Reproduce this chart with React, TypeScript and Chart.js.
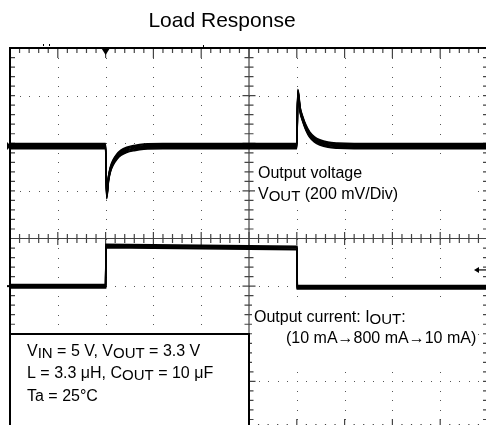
import React, { useEffect, useRef } from 'react';
import { Chart, registerables } from 'chart.js';

Chart.register(...registerables);

// ---- Data (time and amplitude in scope divisions) ----
const TITLE = 'Load Response';
const X_DIVS = [0, 1, 2, 3, 4, 5, 6, 7, 8, 9, 10];
const Y_DIVS = [0, 1, 2, 3, 4, 5, 6, 7, 8];

const vTime = [0, 2.0, 2.022, 2.06, 2.1, 2.16, 2.23, 2.32, 2.44, 2.6, 2.8, 3.2, 6.0, 6.022, 6.07, 6.12, 6.19, 6.27, 6.37, 6.48, 6.65, 6.85, 7.2, 10];
const vOut = [5.94, 5.94, 4.89, 5.25, 5.45, 5.6, 5.71, 5.8, 5.86, 5.9, 5.93, 5.94, 5.94, 7.08, 6.7, 6.52, 6.33, 6.18, 6.08, 6.02, 5.97, 5.95, 5.94, 5.94];

const iTime = [0, 2.0, 2.01, 6.0, 6.01, 10];
const iOut = [3.0, 3.0, 3.84, 3.8, 2.975, 2.975];

const FONT = '"Liberation Sans", Arial, Helvetica, sans-serif';

// trace "noise band" redraw offsets in px (scope trace look)
const BAND = [
  [-2.6, -1.8, -0.9, 0.9, 1.8, 2.6],
  [-1.7, -0.9, 0.9, 1.7],
];

type Seg = { t: string; sub?: boolean };

function drawRich(ctx: CanvasRenderingContext2D, segs: Seg[], x: number, y: number, size: number) {
  let cx = x;
  for (const s of segs) {
    ctx.font = `${s.sub ? size - 1 : size}px ${FONT}`;
    ctx.fillText(s.t, cx, s.sub ? y + 2 : y);
    cx += ctx.measureText(s.t).width;
  }
}

const graticule = {
  id: 'graticule',
  beforeDatasetsDraw(chart: any) {
    const { ctx, chartArea: a, scales } = chart;
    const xs = scales.x;
    const ys = scales.y;
    ctx.save();
    // dotted grid
    ctx.fillStyle = '#555';
    for (const i of X_DIVS) {
      if (i === 0 || i === 5 || i === 10) continue;
      const px = Math.round(xs.getPixelForValue(i));
      for (let k = 0; k <= 40; k++) {
        const py = Math.round(ys.getPixelForValue(k * 0.2));
        ctx.fillRect(px, py, 1, 1);
      }
    }
    for (const j of Y_DIVS) {
      if (j === 0 || j === 4 || j === 8) continue;
      const py = Math.round(ys.getPixelForValue(j));
      for (let k = 0; k <= 50; k++) {
        const px = Math.round(xs.getPixelForValue(k * 0.2));
        ctx.fillRect(px, py, 1, 1);
      }
    }
    // centre axes
    const cx = xs.getPixelForValue(5);
    const cy = ys.getPixelForValue(4);
    ctx.strokeStyle = '#444';
    ctx.lineWidth = 1.2;
    ctx.beginPath();
    ctx.moveTo(a.left, cy);
    ctx.lineTo(a.right, cy);
    ctx.moveTo(cx, a.top);
    ctx.lineTo(cx, a.bottom);
    ctx.stroke();
    ctx.beginPath();
    for (let k = 0; k <= 50; k++) {
      const px = xs.getPixelForValue(k * 0.2);
      const len = k % 5 === 0 ? 6.5 : 4.5;
      ctx.moveTo(px, cy - len);
      ctx.lineTo(px, cy + len);
      const tl = k % 5 === 0 ? 10 : 5;
      ctx.moveTo(px, a.top);
      ctx.lineTo(px, a.top + tl);
      ctx.moveTo(px, a.bottom);
      ctx.lineTo(px, a.bottom - tl);
    }
    for (let k = 0; k <= 40; k++) {
      const py = ys.getPixelForValue(k * 0.2);
      const len = k % 5 === 0 ? 6.5 : 4.5;
      ctx.moveTo(cx - len, py);
      ctx.lineTo(cx + len, py);
      ctx.moveTo(a.left, py);
      ctx.lineTo(a.left + 5, py);
      ctx.moveTo(a.right, py);
      ctx.lineTo(a.right - 5, py);
    }
    ctx.stroke();
    // border
    ctx.strokeStyle = '#000';
    ctx.lineWidth = 2;
    ctx.strokeRect(a.left, a.top, a.right - a.left, a.bottom - a.top);
    ctx.restore();
  },
  afterDatasetDraw(chart: any, args: any) {
    const ctx = chart.ctx;
    const offs = BAND[args.index] || [];
    const a = chart.chartArea;
    for (const dy of offs) {
      ctx.save();
      ctx.beginPath();
      ctx.rect(a.left, a.top, a.right - a.left, a.bottom - a.top);
      ctx.clip();
      ctx.translate(0, dy);
      args.meta.controller.draw();
      ctx.restore();
    }
  },
  afterDraw(chart: any) {
    const { ctx, chartArea: a, scales } = chart;
    const xs = scales.x;
    const ys = scales.y;
    ctx.save();
    // title
    ctx.fillStyle = '#000';
    ctx.font = `21px ${FONT}`;
    ctx.textAlign = 'center';
    ctx.textBaseline = 'alphabetic';
    ctx.fillText(TITLE, 222, 27);
    ctx.textAlign = 'left';

    // trigger marker
    const tx = xs.getPixelForValue(2);
    ctx.beginPath();
    ctx.moveTo(tx - 5, a.top - 1);
    ctx.lineTo(tx + 5, a.top - 1);
    ctx.lineTo(tx, a.top + 7);
    ctx.closePath();
    ctx.fill();
    // channel markers on the left
    const m1 = ys.getPixelForValue(5.94);
    ctx.beginPath();
    ctx.moveTo(a.left - 3, m1 - 4);
    ctx.lineTo(a.left + 1, m1);
    ctx.lineTo(a.left - 3, m1 + 4);
    ctx.closePath();
    ctx.fill();
    const m2 = ys.getPixelForValue(3.0);
    ctx.fillRect(a.left - 3, m2 - 1, 4, 2);
    // arrow on right
    const ay = ys.getPixelForValue(3.34);
    ctx.strokeStyle = '#000';
    ctx.lineWidth = 1.2;
    ctx.beginPath();
    ctx.moveTo(476, ay);
    ctx.lineTo(488, ay);
    ctx.stroke();
    ctx.beginPath();
    ctx.moveTo(474, ay);
    ctx.lineTo(479, ay - 3);
    ctx.lineTo(479, ay + 3);
    ctx.closePath();
    ctx.fill();
    // small dots above the top border
    ctx.fillRect(43, 44, 1, 2);
    ctx.fillRect(49, 44, 1, 2);
    ctx.fillRect(203, 45, 1, 2);

    // voltage annotation
    ctx.fillStyle = '#fff';
    ctx.fillRect(255, 158, 219, 50);
    ctx.fillStyle = '#000';
    drawRich(ctx, [{ t: 'Output voltage' }], 258, 178, 16);
    drawRich(ctx, [{ t: 'V' }, { t: 'OUT', sub: true }, { t: ' (200 mV/Div)' }], 258, 199, 16);

    // current annotation
    ctx.fillStyle = '#fff';
    ctx.fillRect(252, 301, 224, 68);
    ctx.fillStyle = '#000';
    drawRich(ctx, [{ t: 'Output current: I' }, { t: 'OUT', sub: true }, { t: ':' }], 254, 322, 16);
    drawRich(ctx, [{ t: '(10 mA\u2192800 mA\u219210 mA)' }], 286, 343, 16);

    // condition box
    const bx = a.left;
    const by = 334;
    const bw = xs.getPixelForValue(5) - a.left;
    ctx.fillStyle = '#fff';
    ctx.fillRect(bx, by, bw, 120);
    ctx.strokeStyle = '#000';
    ctx.lineWidth = 2;
    ctx.strokeRect(bx, by, bw, 120);
    ctx.fillStyle = '#000';
    drawRich(ctx, [{ t: 'V' }, { t: 'IN', sub: true }, { t: ' = 5 V, V' }, { t: 'OUT', sub: true }, { t: ' = 3.3 V' }], 27, 356, 16);
    drawRich(ctx, [{ t: 'L = 3.3 \u03bcH, C' }, { t: 'OUT', sub: true }, { t: ' = 10 \u03bcF' }], 27, 378, 16);
    drawRich(ctx, [{ t: 'Ta = 25\u00b0C' }], 27, 401, 16);
    ctx.restore();
  },
};

export default function App() {
  const ref = useRef<HTMLCanvasElement>(null);
  useEffect(() => {
    document.body.style.margin = '0';
    const vData = vTime.map((t, i) => ({ x: t, y: vOut[i] }));
    const iData = iTime.map((t, i) => ({ x: t, y: iOut[i] }));
    const chart = new Chart(ref.current as HTMLCanvasElement, {
      type: 'line',
      data: {
        datasets: [
          {
            label: 'VOUT',
            data: vData,
            borderColor: '#000',
            borderWidth: 1.6,
            pointRadius: 0,
            cubicInterpolationMode: 'monotone',
            fill: false,
          },
          {
            label: 'IOUT',
            data: iData,
            borderColor: '#000',
            borderWidth: 1.6,
            pointRadius: 0,
            tension: 0,
            fill: false,
          },
        ],
      },
      options: {
        responsive: false,
        animation: false,
        events: [],
        layout: { padding: { left: 10, top: 48, right: 2, bottom: 3 } },
        scales: {
          x: { type: 'linear', min: 0, max: 10, display: false },
          y: { type: 'linear', min: 0, max: 8, display: false },
        },
        plugins: { legend: { display: false }, tooltip: { enabled: false }, title: { display: false } },
      },
      plugins: [graticule],
    });
    return () => chart.destroy();
  }, []);
  return (
    <div style={{ width: 486, height: 425, overflow: 'hidden', position: 'relative', background: '#fff' }}>
      <canvas ref={ref} width={490} height={432} style={{ display: 'block' }} />
    </div>
  );
}
